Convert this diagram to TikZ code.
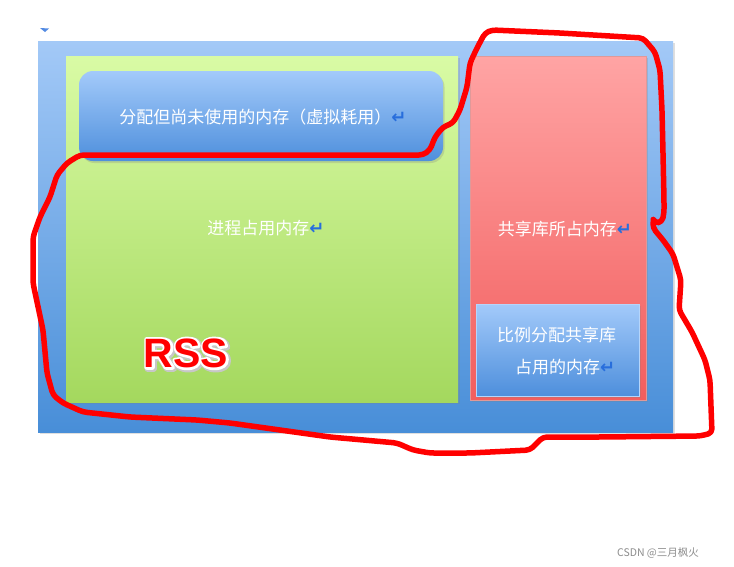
\documentclass[tikz,border=0pt]{standalone}
\usepackage{fontspec}
\setmainfont{Liberation Sans}
\newfontfamily\cjk{Noto Sans CJK SC}
\newfontfamily\djv{DejaVu Sans}
\usetikzlibrary{shadows}
\definecolor{outerTop}{RGB}{163,201,247}
\definecolor{outerBot}{RGB}{72,142,216}
\definecolor{greenTop}{RGB}{217,251,165}
\definecolor{greenBot}{RGB}{164,216,94}
\definecolor{redTop}{RGB}{255,164,164}
\definecolor{redBot}{RGB}{242,94,94}
\definecolor{boxTop}{RGB}{163,202,250}
\definecolor{boxBot}{RGB}{78,143,220}
\definecolor{retBlue}{RGB}{40,110,220}
\definecolor{rssRed}{RGB}{255,0,0}
\definecolor{markRed}{RGB}{255,0,0}
\tikzset{
  area/.style={inner sep=0pt, draw=none},
  softshadow/.style={drop shadow={opacity=0.25, shadow xshift=1.5pt, shadow yshift=-2pt}},
  lbl/.style={text=white, font=\cjk\fontsize{17}{20}\selectfont, inner sep=0pt, align=center},
  rsstext/.style={font=\bfseries\fontsize{41}{41}\selectfont, inner sep=0pt},
}
\newcommand{\ret}{{\djv\bfseries\fontsize{18}{18}\selectfont\textcolor{retBlue}{↵}}}
\newcommand{\strokedtext}[2]{\special{pdf:literal 2 Tr #1 w 1 j 1 J}#2\special{pdf:literal 0 Tr 1 w}}
\begin{document}
\begin{tikzpicture}[x=1pt,y=-1pt]
\useasboundingbox (0,0) rectangle (734,566);
\fill[white] (0,0) rectangle (734,566);
% tiny mark at top left
\fill[retBlue!80] (40,28) -- (49,28.5) -- (45,32) -- cycle;
% outer blue area
\node[area, softshadow, top color=outerTop, bottom color=outerBot,
      minimum width=635pt, minimum height=391pt] (outer) at (355.5,236.5) {};
% green process area
\node[area, softshadow, top color=greenTop, bottom color=greenBot,
      minimum width=392pt, minimum height=346pt] (green) at (262,229) {};
% top rounded blue box
\node[area, softshadow, rounded corners=14pt, top color=boxTop, bottom color=boxBot,
      minimum width=364pt, minimum height=90pt] (virt) at (261,116) {};
\node[lbl] (virtlbl) at (263,117) {分配但尚未使用的内存（虚拟耗用）\ret};
% red shared library area
\node[area, softshadow, draw=red!70!black!40, line width=0.6pt, top color=redTop, bottom color=redBot,
      minimum width=176pt, minimum height=344pt] (shared) at (558,228) {};
\node[lbl] (sharedlbl) at (565,229) {共享库所占内存\ret};
% inner blue box
\node[area, softshadow, draw=boxTop!80!white, line width=0.6pt, top color=boxTop, bottom color=boxBot,
      minimum width=163pt, minimum height=92pt] (prop) at (557.5,350) {};
\node[lbl, anchor=west] (prop1) at (497,335) {比例分配共享库};
\node[lbl, anchor=west] (prop2) at (515,367) {占用的内存\ret};
% process label
\node[lbl] (proclbl) at (266,228) {进程占用内存\ret};
% RSS with white outline (single node, stroked layers)
\node[rsstext] (rss) at (186,354) {\rlap{\kern1.2pt\raisebox{-1.2pt}{\color{black!22}\strokedtext{6.5}{RSS}}}\rlap{\color{white}\strokedtext{4.5}{RSS}}\color{rssRed}RSS};
% hand-drawn red outline
\draw[markRed, line width=5.5pt, line join=round, line cap=round, rounded corners=4pt]
  (492,30) -- (560,33) -- (643,38) -- (655,52) -- (660,70) -- (662,110) -- (663,153)
  -- (664,200) -- (664,213) -- (662,222) -- (655,223) -- (653,219) -- (653,228)
  -- (663,240) -- (673,254) -- (681,280) -- (679,310) -- (692,332) -- (705,360)
  -- (710,380) -- (712,433) -- (700,436) -- (600,437) -- (543,437) -- (535,445)
  -- (530,450) -- (470,453) -- (430,453) -- (413,450) -- (397,443) -- (330,437)
  -- (230,423) -- (197,420) -- (130,417) -- (83,412) -- (63,403) -- (53,395)
  -- (47,373) -- (43,330) -- (33,283) -- (33,237) -- (40,217) -- (50,197)
  -- (57,175) -- (67,163) -- (80,155) -- (423,155) -- (430,150) -- (435,137)
  -- (443,127) -- (453,123) -- (460,110) -- (467,87) -- (470,63) -- (477,48)
  -- (485,33) -- cycle;
% watermark
\node[text=black!45, font=\cjk\fontsize{10.5}{12}\selectfont, inner sep=0pt] (wm) at (658,553) {CSDN @三月枫火};
\end{tikzpicture}
\end{document}
